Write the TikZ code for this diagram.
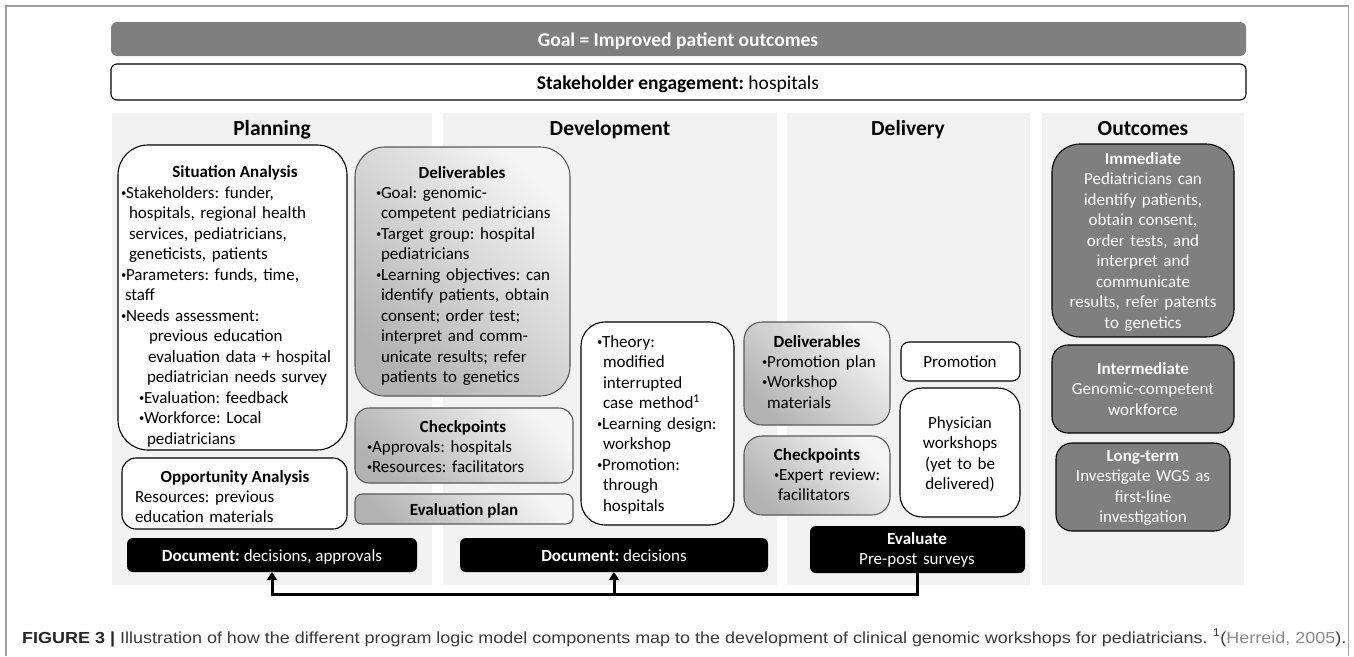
\documentclass[tikz,border=0pt]{standalone}
\usepackage{fontspec}
\setmainfont{Carlito}
\newfontfamily\capfont{Liberation Sans}
\usetikzlibrary{arrows.meta}
\definecolor{panelgray}{HTML}{F2F2F2}
\definecolor{midgray}{HTML}{7F7F7F}
\definecolor{framegray}{HTML}{A0A0A0}
\definecolor{captext}{HTML}{3A3A3A}
\frenchspacing
\newcommand\bodyfont{\fontsize{17}{20.5}\selectfont\frenchspacing}
\newcommand\barfont{\fontsize{19.5}{22}\selectfont\frenchspacing}
\newcommand\headfont{\fontsize{21.5}{24}\selectfont\bfseries}
\newcommand\bul{\makebox[5pt][l]{\raisebox{1.6pt}{\scalebox{0.62}{\textbullet}}}}
\newcommand\ind[1]{\hspace*{#1pt}}
\newcommand\boxat[7]{\node[#2, rounded corners=#7pt, minimum width={#5-#3}, minimum height={#6-#4}] (#1) at (#3,#4) {};}
\tikzset{
  bx/.style={inner sep=0pt, outer sep=0pt, anchor=north west},
  panel/.style={bx, fill=panelgray},
  wbox/.style={bx, draw=black, line width=1.1pt, fill=white},
  gbox/.style={bx, draw=black!65, line width=1.1pt, top color=black!4, bottom color=black!30, shading angle=-45},
  obox/.style={bx, draw=black, line width=1.1pt, fill=midgray},
  kbox/.style={bx, fill=black},
  goalbox/.style={bx, fill=midgray},
  body/.style={font=\bodyfont, anchor=base west, inner sep=0pt, outer sep=0pt, align=left, text width=260pt},
  ctext/.style={font=\bodyfont, anchor=base, inner sep=0pt, outer sep=0pt, align=center, text width=200pt},
  btitle/.style={font=\bodyfont\bfseries, anchor=base, inner sep=0pt},
  head/.style={font=\headfont, anchor=base, inner sep=0pt},
  conn/.style={line width=3pt, black},
}
\begin{document}
\begin{tikzpicture}[x=1pt, y=-1pt]
\useasboundingbox (0,0) rectangle (1354,656);
\fill[white] (0,0) rectangle (1354,656);
\draw[framegray, line width=1.3pt] (6,656) -- (6,6) -- (1348.5,6) -- (1348.5,656);

% top bars
\boxat{goal}{goalbox}{111}{22}{1246}{56}{6}
\node[font=\barfont\bfseries, text=white, anchor=base, inner sep=0pt] (goalT) at (678,46) {Goal = Improved patient outcomes};
\boxat{stake}{wbox}{111}{64}{1246}{100}{6}
\node[font=\barfont, anchor=base, inner sep=0pt] (stakeT) at (678,89) {\textbf{Stakeholder engagement:} hospitals};

% panels
\boxat{pPlan}{panel}{112}{113}{432}{585}{0}
\boxat{pDev}{panel}{443}{113}{777}{585}{0}
\boxat{pDel}{panel}{787}{113}{1030}{585}{0}
\boxat{pOut}{panel}{1042}{113}{1244}{585}{0}
\node[head] (hPlan) at (272,135) {Planning};
\node[head] (hDev) at (610,135) {Development};
\node[head] (hDel) at (908,135) {Delivery};
\node[head] (hOut) at (1143,135) {Outcomes};

% Planning
\boxat{sit}{wbox}{118}{145}{347}{450}{30}
\node[btitle] (sitH) at (235,177) {Situation Analysis};
\node[body] (sitT) at (121,198) {\bul Stakeholders: funder,\\
\ind{8}hospitals, regional health\\
\ind{8}services, pediatricians,\\
\ind{8}geneticists, patients\\
\bul Parameters: funds, time,\\
\ind{4}staff\\
\bul Needs assessment:\\
\ind{28}previous education\\
\ind{27}evaluation data + hospital\\
\ind{26}pediatrician needs survey\\
\ind{18}\bul Evaluation: feedback\\
\ind{18}\bul Workforce: Local\\
\ind{26}pediatricians};
\boxat{opp}{wbox}{122}{458}{347}{529}{14}
\node[btitle] (oppH) at (235,482) {Opportunity Analysis};
\node[body] (oppT) at (135,502) {Resources: previous\\education materials};
\boxat{doc1}{kbox}{127}{538}{417}{572}{6}
\node[font=\bodyfont, text=white, anchor=base, inner sep=0pt] (doc1T) at (272,561) {\textbf{Document:} decisions, approvals};

% Development
\boxat{ddel}{gbox}{355}{147}{570}{396}{30}
\node[btitle] (ddelH) at (462,178) {Deliverables};
\node[body] (ddelT) at (376,198) {\bul Goal: genomic-\\
\ind{5}competent pediatricians\\
\bul Target group: hospital\\
\ind{5}pediatricians\\
\bul Learning objectives: can\\
\ind{5}identify patients, obtain\\
\ind{5}consent; order test;\\
\ind{5}interpret and comm-\\
\ind{5}unicate results; refer\\
\ind{5}patients to genetics};
\boxat{dchk}{gbox}{355}{408}{573}{483}{14}
\node[btitle] (dchkH) at (463,432) {Checkpoints};
\node[body] (dchkT) at (367,452) {\bul Approvals: hospitals\\\bul Resources: facilitators};
\boxat{deval}{gbox}{355}{494}{573}{524}{7}
\node[btitle] (devalT) at (464,515) {Evaluation plan};
\boxat{theory}{wbox}{581}{322}{734}{525}{24}
\node[body] (theoryT) at (597,347) {\bul Theory:\\
\ind{6}modified\\
\ind{6}interrupted\\
\ind{6}case method\textsuperscript{1}\\
\bul Learning design:\\
\ind{6}workshop\\
\bul Promotion:\\
\ind{6}through\\
\ind{6}hospitals};
\boxat{doc2}{kbox}{460}{538}{768}{572}{6}
\node[font=\bodyfont, text=white, anchor=base, inner sep=0pt] (doc2T) at (614,561) {\textbf{Document:} decisions};

% Delivery
\boxat{vdel}{gbox}{744}{322}{890}{425}{18}
\node[btitle] (vdelH) at (817,347) {Deliverables};
\node[body] (vdelT) at (762,367) {\bul Promotion plan\\\bul Workshop\\\ind{5}materials};
\boxat{vchk}{gbox}{744}{436}{890}{515}{18}
\node[btitle] (vchkH) at (817,460) {Checkpoints};
\node[body] (vchkT) at (774,480) {\bul Expert review:\\\ind{4}facilitators};
\boxat{promo}{wbox}{901}{342}{1020}{381}{8}
\node[font=\bodyfont, anchor=base, inner sep=0pt] (promoT) at (960,367) {Promotion};
\boxat{phys}{wbox}{900}{388}{1020}{517}{22}
\node[ctext] (physT) at (960,428) {Physician\\workshops\\(yet to be\\delivered)};
\boxat{evalb}{kbox}{810}{526}{1025}{573}{6}
\node[ctext, text=white] (evalT) at (917,544) {\textbf{Evaluate}\\Pre-post surveys};

% Outcomes
\boxat{imm}{obox}{1052}{144}{1234}{337}{28}
\node[ctext, text=white] (immT) at (1143,164) {\textbf{Immediate}\\Pediatricians can\\identify patients,\\obtain consent,\\order tests, and\\interpret and\\communicate\\results, refer patents\\to genetics};
\boxat{inter}{obox}{1052}{345}{1234}{433}{16}
\node[ctext, text=white] (interT) at (1143,374) {\textbf{Intermediate}\\Genomic-competent\\workforce};
\boxat{long}{obox}{1056}{443}{1230}{531}{16}
\node[ctext, text=white] (longT) at (1143,461) {\textbf{Long-term}\\Investigate WGS as\\first-line\\investigation};

% feedback connector
\coordinate (bend) at (917.5,594);
\draw[conn, -{Triangle[length=8pt,width=10pt]}] (evalb.south) -- (bend) -- (bend -| doc1.south) -- (doc1.south);
\draw[conn, -{Triangle[length=8pt,width=10pt]}] (bend -| doc2.south) -- (doc2.south);

% caption
\node[anchor=base west, inner sep=0pt, text=captext] (cap) at (22,643) {\resizebox{1324pt}{\height}{\capfont\fontsize{16}{16}\selectfont\textcolor{black!85}{\textbf{FIGURE 3 |}} Illustration of how the different program logic model components map to the development of clinical genomic workshops for pediatricians. \textsuperscript{1}(\textcolor{black!45}{Herreid, 2005}).}};
\end{tikzpicture}
\end{document}
